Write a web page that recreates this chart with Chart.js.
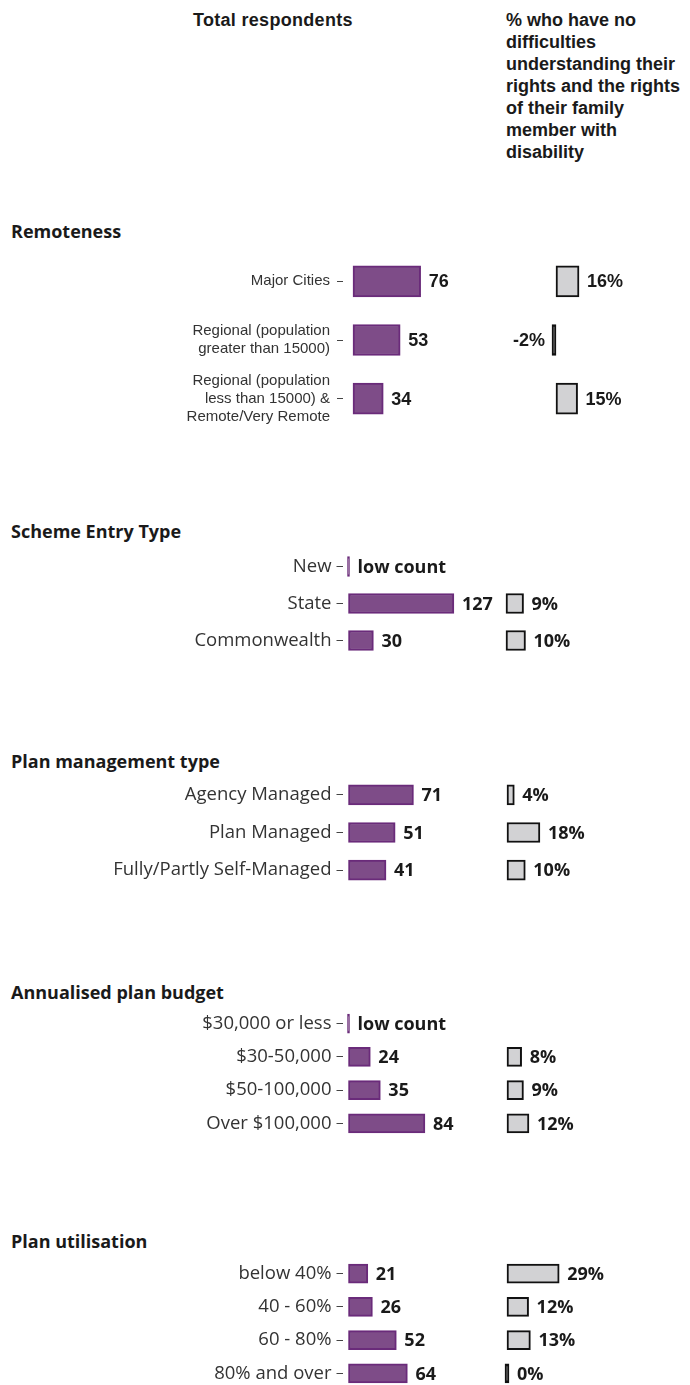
<!DOCTYPE html>
<html lang="en">
<head>
<meta charset="UTF-8">
<title>Understanding rights by participant group</title>
<script src="https://cdn.jsdelivr.net/npm/chart.js"></script>
<style>
  body { margin: 0; width: 690px; height: 1385px; position: relative; background: #fff; color: #1a1a1a; overflow: hidden; }
  .head { position: absolute; font-family: "Liberation Sans", Arial, sans-serif; font-weight: bold; font-size: 18px; line-height: 22px; }
  .title { position: absolute; left: 11px; font-family: "Open Sans", sans-serif; font-weight: bold; font-size: 18px; line-height: 22px; }
  canvas { position: absolute; left: 0; }
</style>
</head>
<body>
<div class="head" style="left:193px; top:9px; letter-spacing:0.3px;">Total respondents</div>
<div class="head" style="left:506px; top:9px; width:184px;">% who have no<br>difficulties<br>understanding their<br>rights and the rights<br>of their family<br>member with<br>disability</div>

<script>
// Remoteness
var remotenessLabels = ['Major Cities',
    ['Regional (population', 'greater than 15000)'],
    ['Regional (population', 'less than 15000) &', 'Remote/Very Remote']];
var remotenessCounts = [76, 53, 34];
var remotenessPct = [16, -2, 15];
var remotenessLow = [false, false, false];

// Scheme entry type
var entryLabels = ['New', 'State', 'Commonwealth'];
var entryCounts = [0, 127, 30];
var entryPct = [null, 9, 10];
var entryLow = [true, false, false];

// Plan management type
var managementLabels = ['Agency Managed', 'Plan Managed', 'Fully/Partly Self-Managed'];
var managementCounts = [71, 51, 41];
var managementPct = [4, 18, 10];
var managementLow = [false, false, false];

// Annualised plan budget
var budgetLabels = ['$30,000 or less', '$30-50,000', '$50-100,000', 'Over $100,000'];
var budgetCounts = [0, 24, 35, 84];
var budgetPct = [null, 8, 9, 12];
var budgetLow = [true, false, false, false];

// Plan utilisation
var utilisationLabels = ['below 40%', '40 - 60%', '60 - 80%', '80% and over'];
var utilisationCounts = [21, 26, 52, 64];
var utilisationPct = [29, 12, 13, 0];
var utilisationLow = [false, false, false, false];

var WIDTH = 690;
var PURPLE = '#7e4c88';
var PURPLE_EDGE = '#6a2b7a';

// layout of each panel: where the rows sit and where each bar column starts
var panels = [
    { title: 'Remoteness', titleTop: 220, top: 252, rowH: 58.7, bar: 31,
      labels: remotenessLabels, counts: remotenessCounts, pct: remotenessPct, low: remotenessLow,
      countZero: 353, countPx: 0.89, pctZero: 556, pctPx: 1.44, gap: 10, tickPad: 7,
      tickFont: { family: 'Liberation Sans', size: 15, lineHeight: 1.2 },
      valueFont: 'bold 18px "Liberation Sans"' },
    { title: 'Scheme Entry Type', titleTop: 520, top: 547.5, rowH: 37, bar: 20,
      labels: entryLabels, counts: entryCounts, pct: entryPct, low: entryLow,
      countZero: 348.5, countPx: 0.83, pctZero: 506, pctPx: 1.95, gap: 6, tickPad: 5,
      tickFont: { family: 'Open Sans', size: 18.5 },
      valueFont: 'bold 18px "Open Sans"' },
    { title: 'Plan management type', titleTop: 750, top: 776, rowH: 37.5, bar: 20,
      labels: managementLabels, counts: managementCounts, pct: managementPct, low: managementLow,
      countZero: 348.5, countPx: 0.915, pctZero: 507, pctPx: 1.83, gap: 6, tickPad: 5,
      tickFont: { family: 'Open Sans', size: 18.5 },
      valueFont: 'bold 18px "Open Sans"' },
    { title: 'Annualised plan budget', titleTop: 981, top: 1007, rowH: 33.3, bar: 19,
      labels: budgetLabels, counts: budgetCounts, pct: budgetPct, low: budgetLow,
      countZero: 348.5, countPx: 0.91, pctZero: 507, pctPx: 1.83, gap: 6, tickPad: 5,
      tickFont: { family: 'Open Sans', size: 18.5 },
      valueFont: 'bold 18px "Open Sans"' },
    { title: 'Plan utilisation', titleTop: 1230, top: 1257, rowH: 33.3, bar: 19,
      labels: utilisationLabels, counts: utilisationCounts, pct: utilisationPct, low: utilisationLow,
      countZero: 348.5, countPx: 0.92, pctZero: 507, pctPx: 1.8, gap: 6, tickPad: 5,
      tickFont: { family: 'Open Sans', size: 18.5 },
      valueFont: 'bold 18px "Open Sans"' }
];

// writes the number (or "low count") next to the end of every bar
var valueLabels = {
    id: 'valueLabels',
    afterDatasetsDraw: function (chart, args, opts) {
        var ctx = chart.ctx;
        ctx.save();
        ctx.font = opts.font;
        ctx.fillStyle = '#1a1a1a';
        ctx.textBaseline = 'middle';
        chart.data.datasets.forEach(function (ds, di) {
            chart.getDatasetMeta(di).data.forEach(function (bar, i) {
                var v = ds.data[i];
                if (v === null || v === undefined) return;
                var text = ds.low && ds.low[i] ? 'low count' : v + ds.suffix;
                if (v < 0) {
                    ctx.textAlign = 'right';
                    ctx.fillText(text, Math.min(bar.x, bar.base) - 7, bar.y + 1);
                } else {
                    ctx.textAlign = 'left';
                    ctx.fillText(text, Math.max(bar.x, bar.base) + 8, bar.y + 1);
                }
            });
        });
        ctx.restore();
    }
};

// shares of 2% or less are only a stroke wide, draw them solid
function tiny(c) { return Math.abs(c.raw) <= 2; }

panels.forEach(function (p) {
    var title = document.createElement('div');
    title.className = 'title';
    title.style.top = p.titleTop + 'px';
    title.textContent = p.title;
    document.body.appendChild(title);

    var canvas = document.createElement('canvas');
    var h = Math.round(p.rowH * p.labels.length);
    canvas.width = WIDTH;
    canvas.height = h;
    canvas.style.top = p.top + 'px';
    document.body.appendChild(canvas);

    var left = p.countZero - p.gap;

    new Chart(canvas.getContext('2d'), {
        type: 'bar',
        data: {
            labels: p.labels,
            datasets: [
                {
                    data: p.counts,
                    xAxisID: 'count',
                    low: p.low,
                    suffix: '',
                    backgroundColor: PURPLE,
                    borderColor: PURPLE_EDGE,
                    borderWidth: 2,
                    borderSkipped: false,
                    barThickness: p.bar,
                    minBarLength: 2,
                    grouped: false
                },
                {
                    data: p.pct,
                    xAxisID: 'pct',
                    suffix: '%',
                    backgroundColor: function (c) { return tiny(c) ? '#111111' : '#d2d2d4'; },
                    borderColor: '#111111',
                    borderWidth: 2,
                    borderSkipped: false,
                    barThickness: p.bar,
                    minBarLength: 4,
                    grouped: false
                }
            ]
        },
        options: {
            indexAxis: 'y',
            responsive: false,
            animation: false,
            layout: { padding: 0 },
            scales: {
                y: {
                    type: 'category',
                    // fixed axis width so the bars start where they should, no extra room for labels
                    afterFit: function (axis) {
                        axis.width = left;
                        axis.paddingTop = 0;
                        axis.paddingBottom = 0;
                    },
                    grid: { drawOnChartArea: false, drawTicks: true, tickLength: 6, offset: false, color: '#444' },
                    border: { display: false },
                    ticks: { color: '#333', font: p.tickFont, padding: p.tickPad }
                },
                count: {
                    type: 'linear', position: 'bottom', display: false,
                    min: -p.gap / p.countPx,
                    max: (WIDTH - p.countZero) / p.countPx
                },
                pct: {
                    type: 'linear', position: 'top', display: false,
                    min: -(p.pctZero - left) / p.pctPx,
                    max: (WIDTH - p.pctZero) / p.pctPx
                }
            },
            plugins: {
                legend: { display: false },
                tooltip: { enabled: false },
                valueLabels: { font: p.valueFont }
            }
        },
        plugins: [valueLabels]
    });
});
</script>
</body>
</html>
